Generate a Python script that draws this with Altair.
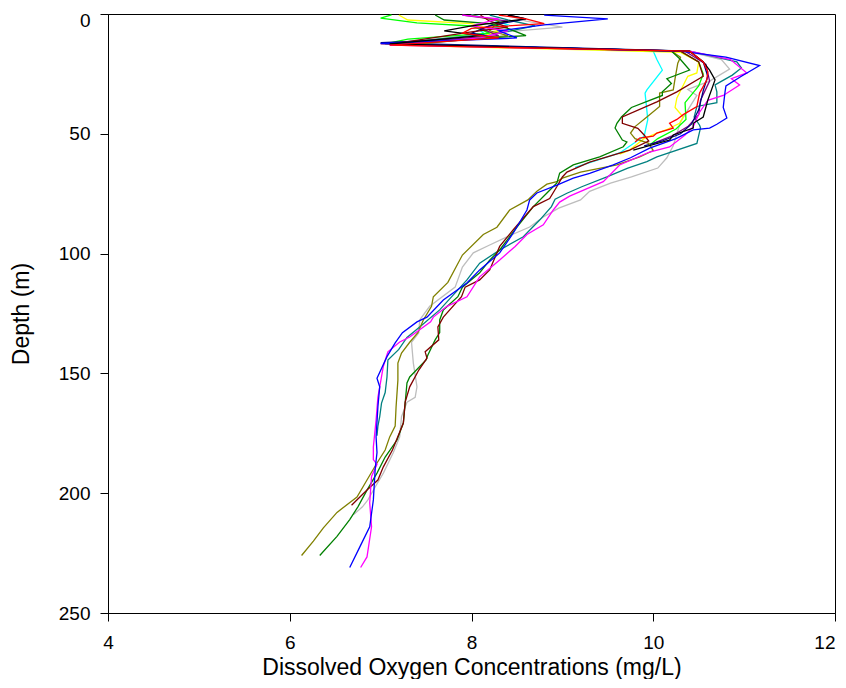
import altair as alt
import pandas as pd

# Depth (m) and dissolved oxygen (mg/L) per profile
D_GRAY = [0.5, 3, 5.5, 8, 12.5, 15.8, 19, 23, 28, 31.5, 34, 45, 55, 60, 64.3, 68, 70.6, 74, 77.6, 81, 84.7, 88.9, 93, 96.4, 99.7, 105.6, 114, 122, 127.7, 133, 137, 145.7, 155.6, 160, 162, 168, 176.5, 183, 191.6, 197.4, 202.8, 205.7, 209]
V_GRAY = [8.4, 8.6, 9.0, 8.2, 7.1, 10.4, 10.75, 10.84, 10.62, 10.38, 10.48, 10.3, 10.22, 10.15, 10.05, 9.76, 9.53, 9.3, 9.2, 8.96, 8.79, 8.64, 8.39, 8.2, 8.02, 7.9, 7.82, 7.54, 7.43, 7.42, 7.34, 7.36, 7.4, 7.38, 7.29, 7.23, 7.21, 7.14, 7.03, 6.94, 6.86, 6.8, 6.7]

D_TEAL = [0.5, 2.5, 5, 8, 12.5, 15.5, 20, 22.5, 25.5, 29.6, 32.5, 37, 38.6, 43, 46.4, 47.5, 54, 59.6, 61.6, 64.3, 68, 72, 74.8, 77.3, 80.4, 86, 93, 98.5, 104, 111, 123.5, 130.6, 135, 140, 144.4, 151.5, 158, 162.4, 168, 172, 176]
V_TEAL = [8.2, 8.4, 8.7, 8.3, 7.1, 10.4, 10.92, 10.97, 10.87, 10.68, 10.7, 10.7, 10.48, 10.45, 10.51, 10.52, 10.48, 10.04, 9.93, 9.72, 9.49, 9.22, 9.05, 8.92, 8.88, 8.75, 8.57, 8.31, 8.09, 7.95, 7.65, 7.43, 7.29, 7.2, 7.08, 7.07, 7.05, 7.01, 6.99, 6.97, 6.96]

D_CYAN = [0.4, 2, 4.5, 7, 10, 12.8, 15.5, 19, 23.4, 31.7, 33, 44, 51, 58, 64]
V_CYAN = [8.0, 8.2, 8.4, 8.1, 8.2, 7.2, 10.0, 10.04, 10.1, 9.93, 9.91, 9.94, 9.9, 9.63, 9.14]

D_YELLOW = [0.4, 2.5, 4, 7, 9.5, 13, 16, 20, 24.6, 26, 35, 39, 43, 45.6, 48.4, 49.7, 52, 56.8, 58.5]
V_YELLOW = [7.2, 7.3, 8.0, 8.3, 8.1, 7.2, 10.3, 10.5, 10.48, 10.38, 10.26, 10.24, 10.33, 10.29, 10.14, 10.04, 9.9, 9.74, 9.63]

D_LIME = [0.4, 1.7, 3.7, 5, 8, 10.5, 12.5, 15.5, 20, 25, 30, 37, 44, 48, 52, 55]
V_LIME = [7.12, 7.0, 7.4, 8.0, 8.2, 7.3, 7.05, 10.3, 10.5, 10.55, 10.5, 10.35, 10.36, 10.25, 10.05, 9.95]

D_PURPLE = [0.5, 3, 6, 9, 12.5, 15.5, 21, 28, 36, 42, 47, 51, 54]
V_PURPLE = [7.9, 8.4, 8.1, 8.3, 7.0, 10.35, 10.58, 10.62, 10.52, 10.5, 10.38, 10.2, 10.0]

D_NAVY = [0.5, 2, 5, 8, 10, 12, 15.5, 20, 26, 32, 40, 46, 50, 53, 55]
V_NAVY = [8.4, 8.6, 8.2, 8.0, 8.3, 7.0, 10.4, 10.55, 10.6, 10.55, 10.5, 10.42, 10.3, 10.1, 9.9]

D_OLIVE = [0.5, 3, 7, 9, 13, 15.5, 18, 20.5, 27, 31.7, 33, 38.6, 43, 47, 49.7, 52, 54, 57, 59.6, 63, 66, 68.5, 70, 71, 74, 77.6, 81.8, 89, 92, 100.6, 112, 118, 122, 127.7, 133, 137, 141.5, 145.7, 152.8, 164, 172, 176.5, 182, 187.4, 194.5, 201.6, 208, 214.5, 220, 226]
V_OLIVE = [8.0, 8.3, 8.2, 8.4, 7.3, 10.2, 10.3, 10.27, 10.24, 10.22, 10.07, 10.07, 9.93, 9.8, 9.75, 9.8, 9.95, 10.0, 9.85, 9.6, 9.2, 9.0, 8.94, 8.83, 8.72, 8.62, 8.42, 8.28, 8.13, 7.9, 7.74, 7.58, 7.56, 7.47, 7.41, 7.32, 7.23, 7.19, 7.19, 7.17, 7.16, 7.1, 7.05, 6.96, 6.85, 6.74, 6.52, 6.37, 6.26, 6.13]

D_GREEN = [0.4, 2.5, 4, 6, 9, 12.5, 15.5, 19, 23.4, 27, 29, 32.5, 34, 39, 43, 45.6, 47.6, 52.6, 53.4, 55.4, 59.6, 63, 66.4, 70.5, 74.7, 80.4, 88.9, 98.5, 102.7, 108, 114, 118, 123.5, 127.7, 133, 136, 142.3, 144.4, 151.5, 154, 162.4, 170.7, 177.8, 184.9, 191.6, 198.7, 205.7, 211, 218, 226]
V_GREEN = [7.6, 7.7, 8.2, 8.4, 8.6, 7.2, 10.2, 10.3, 10.4, 10.15, 10.2, 10.1, 10.1, 9.76, 9.65, 9.6, 9.58, 9.66, 9.71, 9.67, 9.41, 9.12, 8.97, 8.94, 8.83, 8.68, 8.5, 8.31, 8.2, 8.09, 7.9, 7.85, 7.69, 7.65, 7.65, 7.6, 7.52, 7.5, 7.32, 7.29, 7.27, 7.25, 7.18, 7.05, 6.96, 6.85, 6.75, 6.66, 6.52, 6.33]

D_MAROON = [0.5, 3, 5.5, 7.5, 12.7, 15.5, 20, 26, 32.5, 36.7, 43, 45.6, 47.7, 50.5, 53, 56.8, 61.8, 66, 68, 72, 77, 80.4, 90, 97, 106.8, 111, 114, 118, 126.5, 130.6, 136, 141, 143.6, 148.6, 155.6, 162, 170.7, 182, 189, 194.5, 198.7, 205]
V_MAROON = [8.1, 8.2, 8.4, 8.0, 7.1, 10.3, 10.5, 10.55, 10.26, 10.04, 9.66, 9.66, 9.83, 9.9, 9.95, 9.74, 9.3, 9.05, 9.0, 8.94, 8.86, 8.68, 8.46, 8.31, 8.2, 8.09, 7.93, 7.89, 7.69, 7.63, 7.64, 7.49, 7.51, 7.42, 7.32, 7.27, 7.25, 7.13, 7.03, 6.97, 6.85, 6.68]

D_MAGENTA = [0.5, 2, 5, 7, 10, 13, 15.5, 19, 24.6, 27, 29.6, 34, 36, 41, 47, 50.5, 55.5, 57.6, 63, 70, 76, 78.5, 81.8, 88, 92, 97, 102.7, 109.7, 118, 122, 126.5, 128.5, 134.8, 136.9, 141, 147, 160, 169.5, 180.7, 186, 188, 193, 204, 214, 226.6, 231]
V_MAGENTA = [7.9, 8.3, 8.0, 8.4, 8.1, 7.1, 10.4, 10.85, 11.03, 10.86, 10.95, 10.77, 10.6, 10.51, 10.44, 10.35, 10.18, 9.96, 9.63, 9.45, 9.08, 8.97, 8.9, 8.79, 8.61, 8.48, 8.31, 8.09, 7.95, 7.73, 7.58, 7.55, 7.32, 7.21, 7.08, 7.03, 6.97, 6.95, 6.92, 6.92, 6.96, 6.9, 6.88, 6.9, 6.85, 6.78]

D_BLUE = [0.5, 2, 4.5, 7, 10, 12.3, 15.5, 18, 21.5, 26, 30, 32.5, 39, 43.4, 46, 47.6, 48.4, 52, 56, 60, 63, 66.5, 68.5, 71.4, 74.7, 77.6, 81.8, 91.4, 99.7, 106.8, 112.3, 119.4, 126.5, 128.5, 133, 137.3, 143, 152, 155.6, 164, 176.5, 183, 190, 202.8, 214, 222.5, 231]
V_BLUE = [8.8, 9.5, 8.8, 8.3, 8.5, 7.0, 10.3, 10.8, 11.17, 10.97, 10.8, 10.79, 10.77, 10.81, 10.7, 10.62, 10.44, 10.25, 9.96, 9.75, 9.56, 9.3, 9.12, 8.94, 8.72, 8.64, 8.61, 8.46, 8.31, 8.09, 7.95, 7.69, 7.51, 7.4, 7.24, 7.16, 7.07, 6.96, 6.99, 6.97, 6.95, 6.96, 6.94, 6.92, 6.88, 6.77, 6.66]

D_BLACK = [0.4, 2, 5, 7, 9, 12.5, 15.5, 20, 23.4, 27.5, 36, 43, 45.6, 47.6, 50.5, 52.6, 56.8]
V_BLACK = [8.4, 8.6, 8.0, 7.7, 8.1, 7.1, 10.4, 10.55, 10.62, 10.68, 10.6, 10.55, 10.44, 10.44, 10.22, 10.18, 9.78]

D_RED = [0.5, 2, 4, 6, 8, 10, 13, 15.5, 20, 24, 27.5, 33, 38.6, 42, 44, 45.6, 47.6, 49.7, 51, 51.8, 53.4]
V_RED = [8.3, 8.6, 8.8, 8.0, 7.9, 8.3, 7.1, 10.4, 10.55, 10.6, 10.59, 10.51, 10.48, 10.33, 10.26, 10.18, 10.22, 10.04, 10.0, 9.85, 9.8]

SERIES = [
    ("gray", "#BDBDBD", D_GRAY, V_GRAY),
    ("teal", "#008080", D_TEAL, V_TEAL),
    ("cyan", "#00FFFF", D_CYAN, V_CYAN),
    ("yellow", "#FFFF00", D_YELLOW, V_YELLOW),
    ("lime", "#00FF00", D_LIME, V_LIME),
    ("purple", "#800080", D_PURPLE, V_PURPLE),
    ("navy", "#000080", D_NAVY, V_NAVY),
    ("olive", "#808000", D_OLIVE, V_OLIVE),
    ("green", "#008000", D_GREEN, V_GREEN),
    ("maroon", "#800000", D_MAROON, V_MAROON),
    ("magenta", "#FF00FF", D_MAGENTA, V_MAGENTA),
    ("blue", "#0000FF", D_BLUE, V_BLUE),
    ("black", "#000000", D_BLACK, V_BLACK),
    ("red", "#FF0000", D_RED, V_RED),
]

rows = []
for si, (name, col, ds, vs) in enumerate(SERIES):
    key = f"{si:02d}_{name}"
    for i, (d, v) in enumerate(zip(ds, vs)):
        rows.append({"series": key, "depth": d, "do": v, "idx": i})
df = pd.DataFrame(rows)

domain = [f"{si:02d}_{s[0]}" for si, s in enumerate(SERIES)]
colors = [s[1] for s in SERIES]

FONT = "Liberation Sans"

chart = (
    alt.Chart(df)
    .mark_line(strokeWidth=1.3, clip=True)
    .encode(
        x=alt.X(
            "do:Q",
            scale=alt.Scale(domain=[4, 12], nice=False, zero=False),
            axis=alt.Axis(
                title="Dissolved Oxygen Concentrations (mg/L)",
                values=[4, 6, 8, 10, 12],
                format="d",
                grid=False,
                tickSize=8,
                labelPadding=12,
                labelFont=FONT,
                labelFontSize=19,
                labelColor="black",
                labelAlign={"condition": {"test": "datum.value == 12", "value": "right"}, "value": "center"},
                titleFont=FONT,
                titleFontSize=23,
                titleFontWeight="normal",
                titleColor="black",
                titleBaseline="alphabetic",
                titleY=61,
                domainColor="black",
                tickColor="black",
            ),
        ),
        y=alt.Y(
            "depth:Q",
            scale=alt.Scale(domain=[0, 250], reverse=True, nice=False, zero=False),
            axis=alt.Axis(
                title="Depth (m)",
                values=[0, 50, 100, 150, 200, 250],
                format="d",
                grid=False,
                tickSize=8,
                labelPadding=10,
                labelFont=FONT,
                labelFontSize=19,
                labelColor="black",
                labelOffset={"condition": {"test": "datum.value == 0", "value": 6}, "value": 0},
                titleFont=FONT,
                titleFontSize=23,
                titleFontWeight="normal",
                titleColor="black",
                titleBaseline="alphabetic",
                titleX=-80,
                titleY=299.5,
                domainColor="black",
                tickColor="black",
            ),
        ),
        color=alt.Color("series:N", scale=alt.Scale(domain=domain, range=colors), legend=None),
        order=alt.Order("idx:Q"),
        detail="series:N",
    )
    .properties(
        width=727,
        height=599,
        autosize=alt.AutoSizeParams(type="none"),
        padding={"left": 100, "top": 6, "right": 3, "bottom": 66},
    )
    .configure_view(stroke="black", strokeWidth=1)
)

chart.save("out.html", embed_options={"renderer": "svg", "actions": False})
